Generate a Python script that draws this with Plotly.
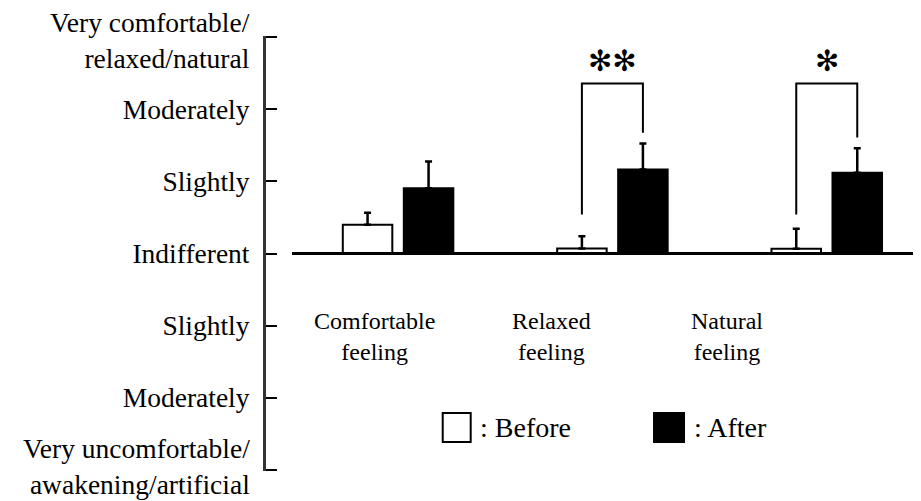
import plotly.graph_objects as go

# ---- data ----
categories = ["Comfortable<br>feeling", "Relaxed<br>feeling", "Natural<br>feeling"]
before_vals = [0.40, 0.07, 0.065]
before_err = [0.165, 0.17, 0.28]
after_vals = [0.907, 1.167, 1.121]
after_err = [0.37, 0.36, 0.34]
tick_vals = [-3, -2, -1, 0, 1, 2, 3]
tick_text = ["Very uncomfortable/<br>awakening/artificial", "Moderately", "Slightly",
             "Indifferent", "Slightly", "Moderately", "Very comfortable/<br>relaxed/natural"]
sig_marks = ["", "✻✻", "✻"]
bracket_top = 2.36
bracket_left_bottom = 0.54
bracket_right_gap = 0.15
series_names = [": Before", ": After"]

FONT = "Liberation Serif"
pos = list(range(len(categories)))
bar_w = 0.231
off_before = -0.258
off_after = 0.0266

fig = go.Figure()
fig.add_trace(go.Bar(
    x=pos, y=before_vals, width=bar_w, offset=off_before,
    marker=dict(color="white", line=dict(color="black", width=2)),
    error_y=dict(type="data", array=before_err, arrayminus=[0]*3, symmetric=False,
                 color="black", thickness=2.5, width=3.5),
    showlegend=False))
fig.add_trace(go.Bar(
    x=pos, y=after_vals, width=bar_w, offset=off_after,
    marker=dict(color="black", line=dict(color="black", width=2)),
    error_y=dict(type="data", array=after_err, arrayminus=[0]*3, symmetric=False,
                 color="black", thickness=2.5, width=3.5),
    showlegend=False))

shapes = []
# zero baseline
shapes.append(dict(type="line", xref="paper", yref="y", x0=0.0397, x1=1, y0=0, y1=0,
                   line=dict(color="black", width=3)))
annotations = []
# significance brackets
for i, mark in enumerate(sig_marks):
    if not mark:
        continue
    xl = i + off_before + bar_w / 2
    xr = i + off_after + bar_w / 2
    yr = after_vals[i] + after_err[i] + bracket_right_gap
    shapes.append(dict(type="path",
                       path=f"M {xl} {bracket_left_bottom} L {xl} {bracket_top} L {xr} {bracket_top} L {xr} {yr}",
                       xref="x", yref="y", line=dict(color="black", width=2)))
    annotations.append(dict(x=i, y=2.67, xref="x", yref="y", text=mark, showarrow=False,
                            font=dict(family="DejaVu Sans", size=29, color="black"),
                            xanchor="center", yanchor="middle"))

# category labels
label_x = [0.1664, 0.436, 0.7038]
for lx, cat in zip(label_x, categories):
    annotations.append(dict(x=lx, y=-1.15, xref="paper", yref="y", text=cat, showarrow=False,
                            font=dict(family=FONT, size=24, color="black"),
                            xanchor="center", yanchor="middle"))

# two-line end labels of the y axis, drawn as annotations for exact placement
axis_text = [t if "<br>" not in t else "" for t in tick_text]
for v, t in zip(tick_vals, tick_text):
    if "<br>" in t:
        annotations.append(dict(x=-0.0215, y=v, xref="paper", yref="y", text=t, showarrow=False,
                                font=dict(family=FONT, size=27.5, color="black"),
                                xanchor="right", yanchor="middle", align="right",
                                yshift=-3 if v > 0 else 3))

# custom legend
def py(px):
    return (471.4 - px) / 435.1

shapes.append(dict(type="rect", xref="paper", yref="paper", x0=0.2698, x1=0.3125,
                   y0=py(442.3), y1=py(413.3), line=dict(color="black", width=2), fillcolor="white"))
shapes.append(dict(type="rect", xref="paper", yref="paper", x0=0.5924, x1=0.6382,
                   y0=py(442.3), y1=py(413.3), line=dict(color="black", width=2), fillcolor="black"))
for lx, name in zip([0.3237, 0.6504], series_names):
    annotations.append(dict(x=lx, y=py(428), xref="paper", yref="paper", text=name, showarrow=False,
                            font=dict(family=FONT, size=28, color="black"),
                            xanchor="left", yanchor="middle"))

fig.update_layout(
    width=913, height=493,
    margin=dict(l=258, r=0, t=28, b=30, autoexpand=False),
    paper_bgcolor="white", plot_bgcolor="white",
    barmode="overlay",
    font=dict(family=FONT, size=28, color="black"),
    xaxis=dict(visible=False, range=[-0.6163, 2.4395], automargin=False),
    yaxis=dict(range=[-3.02, 3.02], tickvals=tick_vals, ticktext=axis_text,
               showline=True, linecolor="#333", linewidth=3, automargin=False,
               ticks="inside", ticklen=11, tickwidth=2, tickcolor="black",
               showgrid=False, zeroline=False, ticklabelstandoff=8,
               ticklabeloverflow="allow",
               tickfont=dict(family=FONT, size=27.5, color="black")),
    shapes=shapes, annotations=annotations,
)
fig.write_html("out.html")
